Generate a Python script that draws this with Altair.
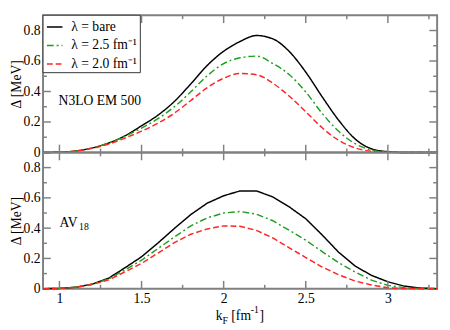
import altair as alt
import pandas as pd

FONT = "Liberation Serif"
GRAY = "#808080"

# ---------------- data ----------------
k_grid = [0.9, 1.0, 1.1, 1.2, 1.3, 1.4, 1.5, 1.6, 1.7, 1.8, 1.9, 2.0, 2.1,
          2.2, 2.3, 2.4, 2.5, 2.6, 2.7, 2.8, 2.9, 3.0, 3.1, 3.2, 3.3]

series = ["λ = bare", "λ = 2.5 fm⁻¹", "λ = 2.0 fm⁻¹"]
colors = ["#000000", "#1f9e1f", "#ff2424"]
dashes = [[1, 0], [7, 3, 2, 3], [6, 3]]

# N3LO EM 500
n3lo_bare = [0.0, 0.002, 0.01, 0.03, 0.062, 0.11, 0.175, 0.245, 0.335, 0.45, 0.571, 0.664, 0.728,
             0.767, 0.745, 0.662, 0.527, 0.365, 0.212, 0.089, 0.024, 0.005, 0.0, 0.0, 0.0]
n3lo_25 = [0.0, 0.002, 0.01, 0.03, 0.062, 0.107, 0.16, 0.222, 0.3, 0.398, 0.503, 0.583, 0.621,
           0.632, 0.583, 0.51, 0.397, 0.256, 0.139, 0.058, 0.016, 0.002, 0.0, 0.0, 0.0]
n3lo_20 = [0.0, 0.002, 0.009, 0.027, 0.055, 0.095, 0.14, 0.192, 0.258, 0.341, 0.425, 0.487, 0.518,
           0.51, 0.454, 0.369, 0.267, 0.162, 0.08, 0.03, 0.008, 0.001, 0.0, 0.0, 0.0]

# AV18
av18_bare = [0.0, 0.002, 0.01, 0.03, 0.07, 0.139, 0.211, 0.302, 0.398, 0.49, 0.565, 0.614, 0.646,
             0.646, 0.606, 0.54, 0.462, 0.355, 0.241, 0.15, 0.088, 0.046, 0.017, 0.004, 0.0]
av18_25 = [0.0, 0.002, 0.01, 0.03, 0.065, 0.125, 0.188, 0.265, 0.342, 0.415, 0.468, 0.5, 0.51,
           0.492, 0.449, 0.385, 0.32, 0.245, 0.172, 0.11, 0.057, 0.022, 0.007, 0.001, 0.0]
av18_20 = [0.0, 0.002, 0.009, 0.028, 0.058, 0.112, 0.167, 0.235, 0.305, 0.36, 0.395, 0.415, 0.412,
           0.385, 0.335, 0.27, 0.206, 0.143, 0.092, 0.051, 0.025, 0.006, 0.001, 0.0, 0.0]

x_major = [1.0, 1.5, 2.0, 2.5, 3.0]
x_minor = [1.25, 1.75, 2.25, 2.75, 3.25]
y_major = [0.2, 0.4, 0.6, 0.8]
y_minor = [0.1, 0.3, 0.5, 0.7]
y_labels = [0.0, 0.2, 0.4, 0.6, 0.8]

# ---------------- layout ----------------
W = 405
H_TOP = 141
H_BOT = 140
MAJ = 8
MIN = 4

xscale = alt.Scale(domain=[0.9, 3.3], nice=False, zero=False)
yscale = alt.Scale(domain=[0, 0.9], nice=False, zero=False)

yaxis = alt.Axis(values=y_labels, labelExpr="datum.value == 0 ? '0' : format(datum.value, '.1f')",
                 ticks=False, domain=False, grid=False, labelFont=FONT, labelFontSize=14,
                 labelColor="black", labelPadding=3, title="Δ [MeV]", titleFont=FONT,
                 titleFontSize=14, titleFontWeight="normal", titleColor="black", titlePadding=0)
xaxis_bot = alt.Axis(values=x_major, labelExpr="format(datum.value, '~g')", ticks=False,
                     domain=False, grid=False, labelFont=FONT, labelFontSize=14,
                     labelColor="black", labelPadding=3, title=None)


def ticks(H, xaxis):
    layers = []
    for vals, ln in ((x_major, MAJ), (x_minor, MIN)):
        d = pd.DataFrame({"k": vals})
        layers.append(alt.Chart(d).mark_rule(color=GRAY, strokeWidth=1.5).encode(
            x=alt.X("k:Q", scale=xscale, axis=xaxis), y=alt.value(H), y2=alt.value(H - ln)))
        layers.append(alt.Chart(d).mark_rule(color=GRAY, strokeWidth=1.5).encode(
            x=alt.X("k:Q", scale=xscale, axis=xaxis), y=alt.value(0), y2=alt.value(ln)))
    for vals, ln in ((y_major, MAJ), (y_minor, MIN)):
        d = pd.DataFrame({"d": vals})
        layers.append(alt.Chart(d).mark_rule(color=GRAY, strokeWidth=1.5).encode(
            y=alt.Y("d:Q", scale=yscale, axis=yaxis), x=alt.value(0), x2=alt.value(ln)))
        layers.append(alt.Chart(d).mark_rule(color=GRAY, strokeWidth=1.5).encode(
            y=alt.Y("d:Q", scale=yscale, axis=yaxis), x=alt.value(W), x2=alt.value(W - ln)))
    return layers


def lines(vals, xaxis, interp):
    layers = []
    for v, c, dsh in zip(vals, colors, dashes):
        df = pd.DataFrame({"k": k_grid, "d": v})
        layers.append(alt.Chart(df).mark_line(strokeWidth=1.5, interpolate=interp, color=c,
                                              strokeDash=dsh).encode(
            x=alt.X("k:Q", scale=xscale, axis=xaxis),
            y=alt.Y("d:Q", scale=yscale, axis=yaxis),
        ))
    return layers


def label(text, px, py, fs=14, align="left", baseline="middle"):
    return alt.Chart(pd.DataFrame({"t": [text]})).mark_text(
        align=align, baseline=baseline, font=FONT, fontSize=fs, color="black").encode(
        x=alt.value(px), y=alt.value(py), text="t:N")


# manual legend (top panel)
LEG_W, LEG_H = 100, 59
leg_box = alt.Chart(pd.DataFrame({"t": ["box"]})).mark_rect(
    fill="white", stroke="#333333", strokeWidth=1).encode(
    x=alt.value(0), x2=alt.value(LEG_W), y=alt.value(0), y2=alt.value(LEG_H))
leg_layers = [leg_box]
for i, (s, c, dsh) in enumerate(zip(series, colors, dashes)):
    yy = 12 + 19 * i
    leg_layers.append(alt.Chart(pd.DataFrame({"t": [s]})).mark_rule(
        color=c, strokeWidth=1.5, strokeDash=dsh).encode(
        x=alt.value(4), x2=alt.value(20), y=alt.value(yy)))
    leg_layers.append(label(s, 29, yy))

top_label = label("N3LO EM 500", 16, 88)
bot_label = [label("AV", 17, 73), label("18", 37, 77, fs=10)]

# x title pieces: k_F [fm^-1]
XT = W / 2 - 25
YT = H_BOT + 32
title_layers = [
    label("k", XT, YT, baseline="alphabetic"),
    label("F", XT + 7, YT + 4, fs=10, baseline="alphabetic"),
    label("[fm", XT + 16, YT, baseline="alphabetic"),
    label("-1", XT + 36, YT - 7, fs=10, baseline="alphabetic"),
    label("]", XT + 45, YT, baseline="alphabetic"),
]

top = alt.layer(*lines([n3lo_bare, n3lo_25, n3lo_20], None, "monotone"), top_label,
                *ticks(H_TOP, None), *leg_layers).properties(width=W, height=H_TOP)
bot = alt.layer(*lines([av18_bare, av18_25, av18_20], xaxis_bot, "linear"), *bot_label,
                *ticks(H_BOT, xaxis_bot), *title_layers).properties(width=W, height=H_BOT)

chart = alt.vconcat(top, bot, spacing=0, bounds="flush").properties(
    padding={"top": 1, "left": 0, "right": 1, "bottom": 0}).configure_view(
    stroke=GRAY, strokeWidth=2)

chart.save("out.html", embed_options={"renderer": "svg", "actions": False})
